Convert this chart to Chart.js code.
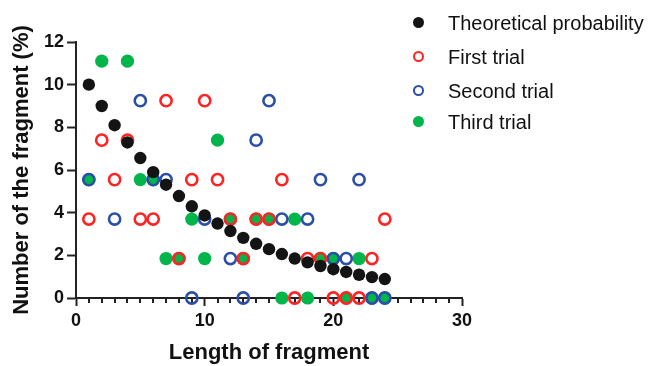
<!DOCTYPE html>
<html>
<head>
<meta charset="utf-8">
<script src="https://cdn.jsdelivr.net/npm/chart.js@4"></script>
<style>
  body { margin: 0; background: #fff; }
  #wrap { position: relative; width: 651px; height: 366px; }
  #legend { position: absolute; left: 0; top: 0; font-family: "Liberation Sans", Arial, sans-serif; font-size: 20px; color: #111; }
  .lg-row { position: absolute; left: 410px; height: 24px; line-height: 24px; white-space: nowrap; }
  .lg-dot { position: absolute; left: 3px; top: 6px; width: 11px; height: 11px; border-radius: 50%; box-sizing: border-box; }
  .lg-text { position: absolute; left: 38px; top: 0; }
</style>
</head>
<body>
<div id="wrap">
  <canvas id="c" width="651" height="366"></canvas>
  <div id="legend"></div>
</div>
<script>
// Fragment length distribution: theory vs three trials (values in %)
const lengths     = [1, 2, 3, 4, 5, 6, 7, 8, 9, 10, 11, 12, 13, 14, 15, 16, 17, 18, 19, 20, 21, 22, 23, 24];
const theoretical = [10.0, 9.0, 8.1, 7.29, 6.56, 5.9, 5.31, 4.78, 4.3, 3.87, 3.49, 3.14, 2.82, 2.54, 2.29, 2.06, 1.85, 1.67, 1.5, 1.35, 1.22, 1.09, 0.98, 0.89];
const firstTrial  = [3.7, 7.4, 5.55, 7.4, 3.7, 3.7, 9.25, 1.85, 5.55, 9.25, 5.55, 3.7, 1.85, 3.7, 3.7, 5.55, 0, 1.85, 1.85, 0, 0, 0, 1.85, 3.7];
const secondTrial = [5.55, null, 3.7, null, 9.25, 5.55, 5.55, null, 0, 3.7, null, 1.85, 0, 7.4, 9.25, 3.7, null, 3.7, 5.55, 1.85, 1.85, 5.55, 0, 0];
const thirdTrial  = [5.55, 11.1, null, 11.1, 5.55, 5.55, 1.85, 1.85, 3.7, 1.85, 7.4, 3.7, 1.85, 3.7, 3.7, 0, 3.7, 0, 1.85, 1.85, 0, 1.85, 0, 0];
const xTicks = [0, 10, 20, 30];
const yTicks = [0, 2, 4, 6, 8, 10, 12];

const BLACK = '#141414', RED = '#ff2323', BLUE = '#2b4fa6', GREEN = '#00b54a';
const toPts = (ys) => lengths.map((x, i) => ({ x, y: ys[i] })).filter(p => p.y !== null);

const series = [
  { label: 'Theoretical probability', data: theoretical, color: BLACK, filled: true },
  { label: 'First trial', data: firstTrial, color: RED, filled: false },
  { label: 'Second trial', data: secondTrial, color: BLUE, filled: false },
  { label: 'Third trial', data: thirdTrial, color: GREEN, filled: true }
];

// minor ticks on x every 1 unit
const minorTicks = {
  id: 'minorTicks',
  beforeDatasetsDraw(chart) {
    const { ctx, scales: { x } } = chart;
    const y0 = x.top;
    ctx.save();
    ctx.strokeStyle = '#222';
    ctx.lineWidth = 2;
    for (let v = 0; v <= 30; v++) {
      if (v % 10 === 0) continue;
      const px = Math.round(x.getPixelForValue(v));
      ctx.beginPath();
      ctx.moveTo(px, y0);
      ctx.lineTo(px, y0 + 5);
      ctx.stroke();
    }
    ctx.restore();
  }
};

const tickFont = { family: '"Liberation Sans", Arial, sans-serif', size: 18, weight: 'bold' };
const titleFont = { family: '"Liberation Sans", Arial, sans-serif', size: 22, weight: 'bold' };

new Chart(document.getElementById('c').getContext('2d'), {
  type: 'scatter',
  data: {
    datasets: series.map(s => ({
      label: s.label,
      data: toPts(s.data),
      pointRadius: s.filled ? (s.color === GREEN ? 6.6 : 6.2) : 5.6,
      pointHoverRadius: s.filled ? 6 : 5.6,
      pointBorderWidth: s.filled ? 0 : 2.6,
      pointBackgroundColor: s.filled ? s.color : 'rgba(0,0,0,0)',
      pointBorderColor: s.color,
      clip: false
    }))
  },
  options: {
    responsive: false,
    animation: false,
    devicePixelRatio: 1,
    layout: { padding: { left: 0, top: 42, right: 189, bottom: 0 } },
    plugins: { legend: { display: false }, tooltip: { enabled: false } },
    scales: {
      x: {
        type: 'linear', min: 0, max: 30,
        afterBuildTicks: (s) => { s.ticks = xTicks.map(v => ({ value: v })); },
        afterFit: (s) => { s.height = 68; },
        border: { color: '#222', width: 2 },
        grid: { drawOnChartArea: false, drawTicks: true, tickLength: 8, tickWidth: 2, tickColor: '#222' },
        ticks: { color: '#111', font: tickFont, padding: 4, maxRotation: 0 },
        title: { display: true, text: 'Length of fragment', color: '#111', font: titleFont, padding: { top: 0, bottom: 0 } }
      },
      y: {
        type: 'linear', min: 0, max: 12,
        afterBuildTicks: (s) => { s.ticks = yTicks.map(v => ({ value: v })); },
        afterFit: (s) => { s.width = 76; },
        border: { color: '#222', width: 2 },
        grid: { drawOnChartArea: false, drawTicks: true, tickLength: 9, tickWidth: 2, tickColor: '#222' },
        ticks: { color: '#111', font: tickFont, padding: 3 },
        title: { display: true, text: 'Number of the fragment (%)', color: '#111', font: titleFont, padding: { top: 9, bottom: 0 } }
      }
    }
  },
  plugins: [minorTicks]
});

// HTML legend, top right, overlapping the plot like the original
const legendTops = [11, 45, 79, 110];
document.getElementById('legend').innerHTML = series.map((s, i) => `
  <div class="lg-row" style="top:${legendTops[i]}px">
    <span class="lg-dot" style="${s.filled ? 'background:' + s.color : 'border:2px solid ' + s.color}"></span>
    <span class="lg-text">${s.label}</span>
  </div>`).join('');
</script>
</body>
</html>
